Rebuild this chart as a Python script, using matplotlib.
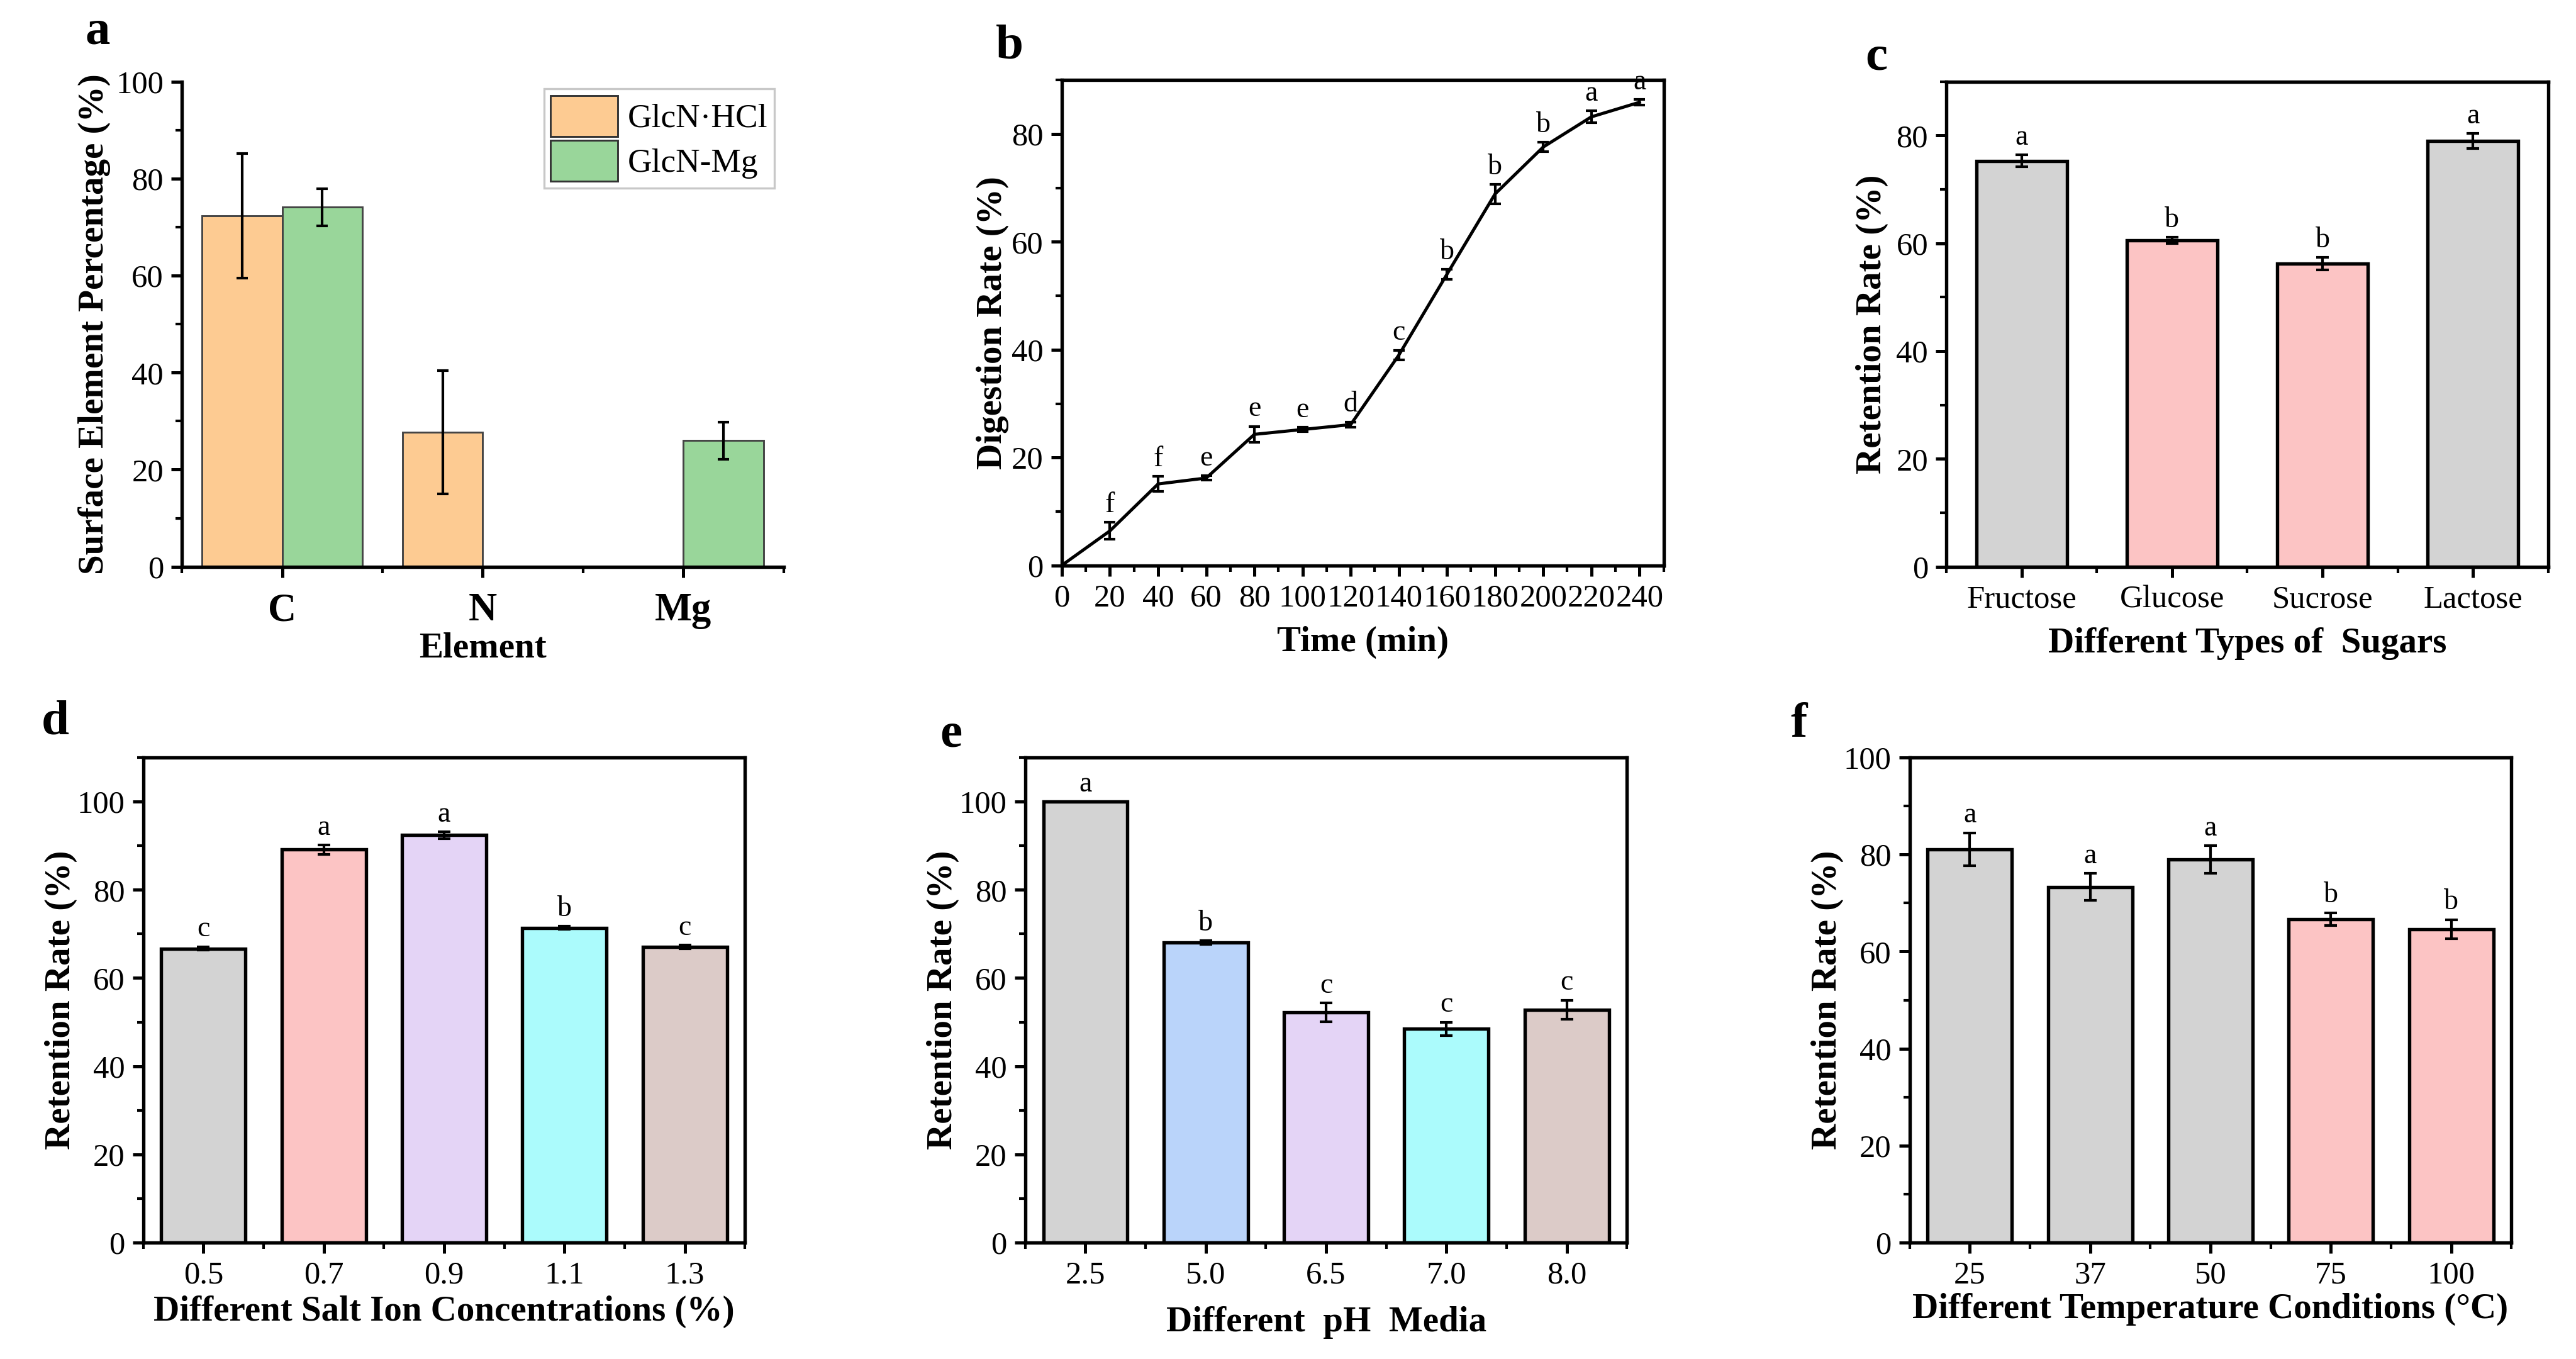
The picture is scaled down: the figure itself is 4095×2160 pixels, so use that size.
import numpy as np
import matplotlib
matplotlib.use("Agg")
import matplotlib.pyplot as plt
from matplotlib.ticker import MultipleLocator

plt.rcParams['font.family'] = ['Liberation Serif', 'DejaVu Serif']
plt.rcParams['axes.linewidth'] = 1.3
plt.rcParams['xtick.direction'] = 'out'
plt.rcParams['ytick.direction'] = 'out'

# ---- data ----
elements = ['C', 'N', 'Mg']
hcl_vals = [72.3, 27.7, 0.0]
hcl_errs = [12.8, 12.7, 0.0]
mg_vals = [74.1, 0.0, 26.0]
mg_errs = [3.8, 0.0, 3.8]

time_min = [0, 20, 40, 60, 80, 100, 120, 140, 160, 180, 200, 220, 240]
digestion = [0, 6.4, 15.1, 16.2, 24.3, 25.2, 26.1, 39.0, 54.0, 68.9, 77.6, 83.2, 85.9]
digestion_err = [0, 1.6, 1.4, 0.4, 1.5, 0.4, 0.5, 0.9, 0.9, 1.8, 0.9, 1.1, 0.5]
digestion_sig = ['', 'f', 'f', 'e', 'e', 'e', 'd', 'c', 'b', 'b', 'b', 'a', 'a']

sugars = ['Fructose', 'Glucose', 'Sucrose', 'Lactose']
sugar_vals = [75.3, 60.5, 56.2, 79.0]
sugar_errs = [1.1, 0.6, 1.2, 1.4]
sugar_sig = ['a', 'b', 'b', 'a']

salt = ['0.5', '0.7', '0.9', '1.1', '1.3']
salt_vals = [66.7, 89.1, 92.4, 71.4, 67.1]
salt_errs = [0.4, 1.1, 0.8, 0.4, 0.4]
salt_sig = ['c', 'a', 'a', 'b', 'c']

ph = ['2.5', '5.0', '6.5', '7.0', '8.0']
ph_vals = [100.0, 68.1, 52.2, 48.5, 52.8]
ph_errs = [0.0, 0.4, 2.1, 1.5, 2.2]
ph_sig = ['a', 'b', 'c', 'c', 'c']

temps = ['25', '37', '50', '75', '100']
temp_vals = [81.1, 73.3, 79.0, 66.7, 64.6]
temp_errs = [3.4, 2.8, 2.8, 1.3, 2.0]
temp_sig = ['a', 'a', 'a', 'b', 'b']

GRAY = '#d3d3d3'
PINK = '#fcc4c4'
LAV = '#e4d4f6'
CYAN = '#abfbfc'
TAUPE = '#dccbc8'
BLUE = '#bad4fa'

fig = plt.figure(figsize=(13.65, 7.2), dpi=300)
fig.patch.set_facecolor('white')

W, H = 0.2336, 0.357
ax_a = fig.add_axes([0.0706, 0.583, W, H])
ax_b = fig.add_axes([0.4122, 0.584, W, H])
ax_c = fig.add_axes([0.7556, 0.583, W, H])
ax_d = fig.add_axes([0.0556, 0.0856, W, H])
ax_e = fig.add_axes([0.398, 0.0856, W, H])
ax_f = fig.add_axes([0.7413, 0.0856, W, H])

TICK_FS = 12.2
LABEL_FS = 13.7
SIG_FS = 11


def style_axes(ax):
    ax.tick_params(which='major', length=4, width=1.2, labelsize=TICK_FS, pad=3)
    ax.tick_params(which='minor', length=2.5, width=1.0)
    ax.tick_params(top=False, right=False, which='both')


# ---- a ----
x = np.arange(1, 4)
ax_a.bar(x - 0.2, hcl_vals, 0.4, color='#fdcb92', edgecolor='#444444', linewidth=0.7, label='GlcN\u00b7HCl')
ax_a.bar(x + 0.2, mg_vals, 0.4, color='#99d69a', edgecolor='#444444', linewidth=0.7, label='GlcN-Mg')
for xi, v, e in zip(x - 0.2, hcl_vals, hcl_errs):
    if v > 0:
        ax_a.errorbar(xi, v, yerr=e, color='black', capsize=2.2, elinewidth=1, capthick=1)
for xi, v, e in zip(x + 0.2, mg_vals, mg_errs):
    if v > 0:
        ax_a.errorbar(xi, v, yerr=e, color='black', capsize=2.2, elinewidth=1, capthick=1)
ax_a.set_xlim(0.5, 3.5)
ax_a.set_ylim(0, 100)
ax_a.set_xticks(x)
ax_a.set_xticklabels(elements, fontweight='bold', fontsize=15)
ax_a.set_xticks([0.5, 1.5, 2.5, 3.5], minor=True)
ax_a.yaxis.set_major_locator(MultipleLocator(20))
ax_a.yaxis.set_minor_locator(MultipleLocator(10))
ax_a.spines['top'].set_visible(False)
ax_a.spines['right'].set_visible(False)
style_axes(ax_a)
ax_a.tick_params(axis='x', which='major', labelsize=15, pad=6)
ax_a.set_xlabel('Element', fontsize=LABEL_FS, fontweight='bold', labelpad=1)
ax_a.set_ylabel('Surface Element Percentage (%)', fontsize=LABEL_FS, fontweight='bold', labelpad=2)
leg = ax_a.legend(loc='upper right', fontsize=12.8, frameon=True, fancybox=False,
                  handlelength=2.0, handleheight=1.5, borderpad=0.2, labelspacing=0.12,
                  handletextpad=0.3, borderaxespad=0.0, bbox_to_anchor=(0.985, 0.985))
leg.get_frame().set_edgecolor('#bbbbbb')
leg.get_frame().set_linewidth(0.8)
for p in leg.get_patches():
    p.set_edgecolor('#333333')

# ---- b ----
ax_b.errorbar(time_min, digestion, yerr=digestion_err, color='black', lw=1.2,
              capsize=2.2, elinewidth=1, capthick=1)
for t, v, e, s in zip(time_min, digestion, digestion_err, digestion_sig):
    if s:
        ax_b.annotate(s, (t, v + e), xytext=(0, 1.5), textcoords='offset points',
                      ha='center', va='bottom', fontsize=SIG_FS)
ax_b.set_xlim(0, 250)
ax_b.set_ylim(0, 90)
ax_b.set_xticks(range(0, 241, 20))
ax_b.xaxis.set_minor_locator(MultipleLocator(10))
ax_b.yaxis.set_major_locator(MultipleLocator(20))
ax_b.yaxis.set_minor_locator(MultipleLocator(10))
style_axes(ax_b)
ax_b.set_xlabel('Time (min)', fontsize=LABEL_FS, fontweight='bold', labelpad=5)
ax_b.set_ylabel('Digestion Rate (%)', fontsize=LABEL_FS, fontweight='bold', labelpad=1)


def bar_panel(ax, labels, vals, errs, colors, sig, ymax, xlabel, width=0.7, ylabelpad=1, xlabelpad=4):
    xs = np.arange(1, len(vals) + 1)
    ax.bar(xs, vals, width, color=colors, edgecolor='black', linewidth=1.3)
    for xi, v, e in zip(xs, vals, errs):
        if e > 0:
            ax.errorbar(xi, v, yerr=e, color='black', capsize=2.5, elinewidth=1, capthick=1)
    for xi, v, e, s in zip(xs, vals, errs, sig):
        ax.annotate(s, (xi, v + e), xytext=(0, 1.5), textcoords='offset points',
                    ha='center', va='bottom', fontsize=SIG_FS)
    ax.set_xlim(0.5, len(vals) + 0.5)
    ax.set_ylim(0, ymax)
    ax.set_xticks(xs)
    ax.set_xticklabels(labels)
    ax.set_xticks(np.arange(0.5, len(vals) + 1, 1.0), minor=True)
    ax.yaxis.set_major_locator(MultipleLocator(20))
    ax.yaxis.set_minor_locator(MultipleLocator(10))
    style_axes(ax)
    ax.set_xlabel(xlabel, fontsize=LABEL_FS, fontweight='bold', labelpad=xlabelpad)
    ax.set_ylabel('Retention Rate (%)', fontsize=LABEL_FS, fontweight='bold', labelpad=ylabelpad)


bar_panel(ax_c, sugars, sugar_vals, sugar_errs, [GRAY, PINK, PINK, GRAY], sugar_sig, 90,
          'Different Types of  Sugars', width=0.6, ylabelpad=3, xlabelpad=5)
bar_panel(ax_d, salt, salt_vals, salt_errs, [GRAY, PINK, LAV, CYAN, TAUPE], salt_sig, 110,
          'Different Salt Ion Concentrations (%)', ylabelpad=0, xlabelpad=2)
bar_panel(ax_e, ph, ph_vals, ph_errs, [GRAY, BLUE, LAV, CYAN, TAUPE], ph_sig, 110,
          'Different  pH  Media', ylabelpad=0, xlabelpad=6)
bar_panel(ax_f, temps, temp_vals, temp_errs, [GRAY, GRAY, GRAY, PINK, PINK], temp_sig, 100,
          'Different Temperature Conditions (\u00b0C)', ylabelpad=0, xlabelpad=1)

# panel letters
for lx, ly, s in [(0.033, 0.968, 'a'), (0.3866, 0.957, 'b'), (0.724, 0.949, 'c'),
                  (0.016, 0.460, 'd'), (0.365, 0.4505, 'e'), (0.695, 0.458, 'f')]:
    fig.text(lx, ly, s, fontsize=19, fontweight='bold', ha='left', va='baseline')

fig.savefig('out.png', dpi=300, facecolor='white')
